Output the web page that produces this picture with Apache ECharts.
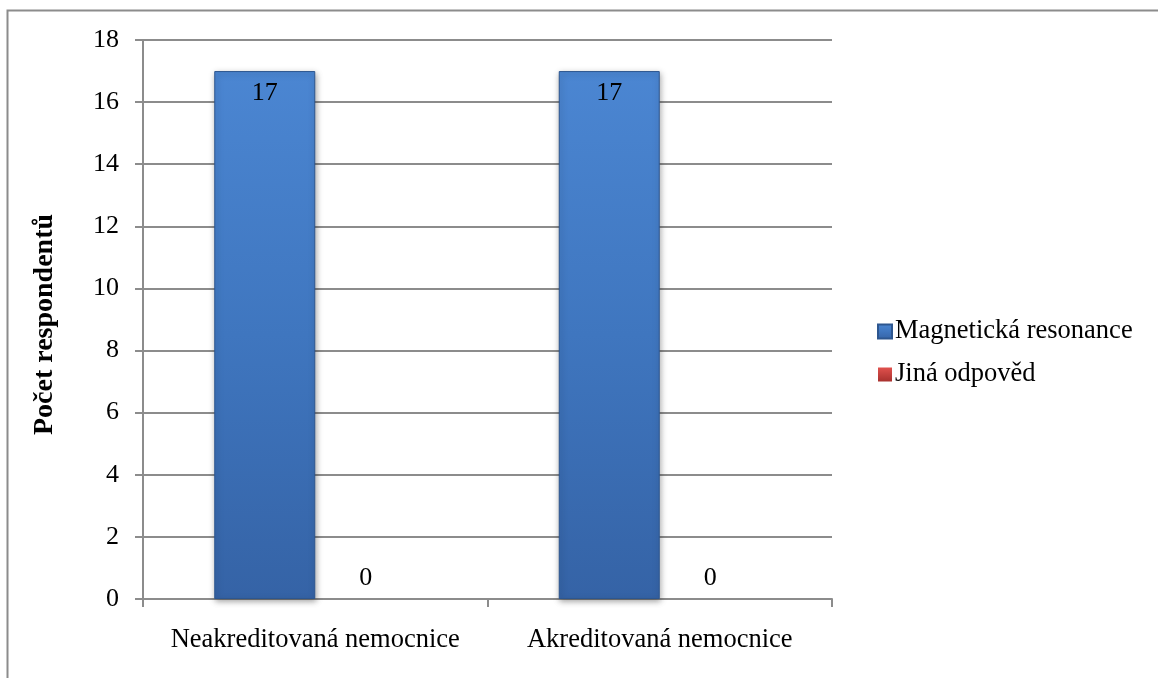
<!DOCTYPE html>
<html>
<head>
<meta charset="utf-8">
<style>
  html, body { margin: 0; padding: 0; background: #ffffff; }
  #chart { width: 1158px; height: 678px; }
</style>
<script src="https://cdn.jsdelivr.net/npm/echarts@6/dist/echarts.min.js"></script>
</head>
<body>
<div id="chart"></div>
<script>
// Hospital groups on the x axis
const categories = ['Neakreditovaná nemocnice', 'Akreditovaná nemocnice'];
// Answer counts per group
const magneticResonance = [17, 17];
const otherAnswer = [0, 0];
const seriesNames = ['Magnetická resonance', 'Jiná odpověd'];
const yAxisTitle = 'Počet respondentů';

const FONT = '"Liberation Serif", "Times New Roman", serif';

const blueFill = new echarts.graphic.LinearGradient(0, 0, 0, 1, [
  { offset: 0, color: '#4b86d2' },
  { offset: 0.5, color: '#3f76bf' },
  { offset: 1, color: '#3563a6' }
]);
const redFill = new echarts.graphic.LinearGradient(0, 0, 0, 1, [
  { offset: 0, color: '#e0514d' },
  { offset: 1, color: '#a8312e' }
]);

const chart = echarts.init(document.getElementById('chart'), null, { renderer: 'canvas' });

chart.setOption({
  animation: false,
  backgroundColor: '#ffffff',
  textStyle: { fontFamily: FONT, color: '#000' },
  graphic: [{
    type: 'rect',
    shape: { x: 7.5, y: 10.5, width: 1200, height: 720 },
    style: { fill: 'none', stroke: '#8c8c8c', lineWidth: 2 },
    silent: true,
    z: -10
  }],
  grid: { left: 143, right: 326, top: 40, bottom: 79, containLabel: false },
  legend: {
    orient: 'vertical',
    left: 872,
    top: 313,
    itemWidth: 14,
    itemHeight: 14,
    itemGap: 16,
    icon: 'rect',
    data: seriesNames,
    textStyle: { fontFamily: FONT, fontSize: 26.5, color: '#000', lineHeight: 26, padding: [0, 0, 0, -2] }
  },
  xAxis: {
    type: 'category',
    data: categories,
    axisLine: { show: true, lineStyle: { color: '#8c8c8c', width: 2 } },
    axisTick: { show: true, length: 8, lineStyle: { color: '#8c8c8c', width: 2 } },
    axisLabel: { interval: 0, fontFamily: FONT, fontSize: 26.5, color: '#000', margin: 28 }
  },
  yAxis: {
    type: 'value',
    min: 0,
    max: 18,
    interval: 2,
    name: yAxisTitle,
    nameLocation: 'middle',
    nameGap: 84,
    nameRotate: 90,
    nameTextStyle: { fontFamily: FONT, fontSize: 28, fontWeight: 'bold', color: '#000', padding: [0, 10, 0, 0] },
    axisLine: { show: true, lineStyle: { color: '#8c8c8c', width: 2 } },
    axisTick: { show: true, length: 8, lineStyle: { color: '#8c8c8c', width: 2 } },
    axisLabel: { fontFamily: FONT, fontSize: 26, color: '#000', margin: 24 },
    splitLine: { show: true, lineStyle: { color: '#8c8c8c', width: 2 } }
  },
  series: [
    {
      name: seriesNames[0],
      type: 'bar',
      data: magneticResonance,
      barWidth: 101,
      barGap: '0%',
      itemStyle: {
        color: blueFill,
        borderColor: '#2d568f',
        borderWidth: 1,
        shadowColor: 'rgba(0,0,0,0.35)',
        shadowBlur: 6,
        shadowOffsetX: 1,
        shadowOffsetY: 2
      },
      label: {
        show: true,
        position: 'insideTop',
        distance: 9,
        fontFamily: FONT,
        fontSize: 26,
        color: '#000'
      }
    },
    {
      name: seriesNames[1],
      type: 'bar',
      data: otherAnswer,
      barWidth: 101,
      barGap: '0%',
      itemStyle: { color: redFill },
      label: {
        show: true,
        position: 'top',
        distance: 8,
        fontFamily: FONT,
        fontSize: 26,
        color: '#000'
      }
    }
  ]
});
</script>
</body>
</html>
